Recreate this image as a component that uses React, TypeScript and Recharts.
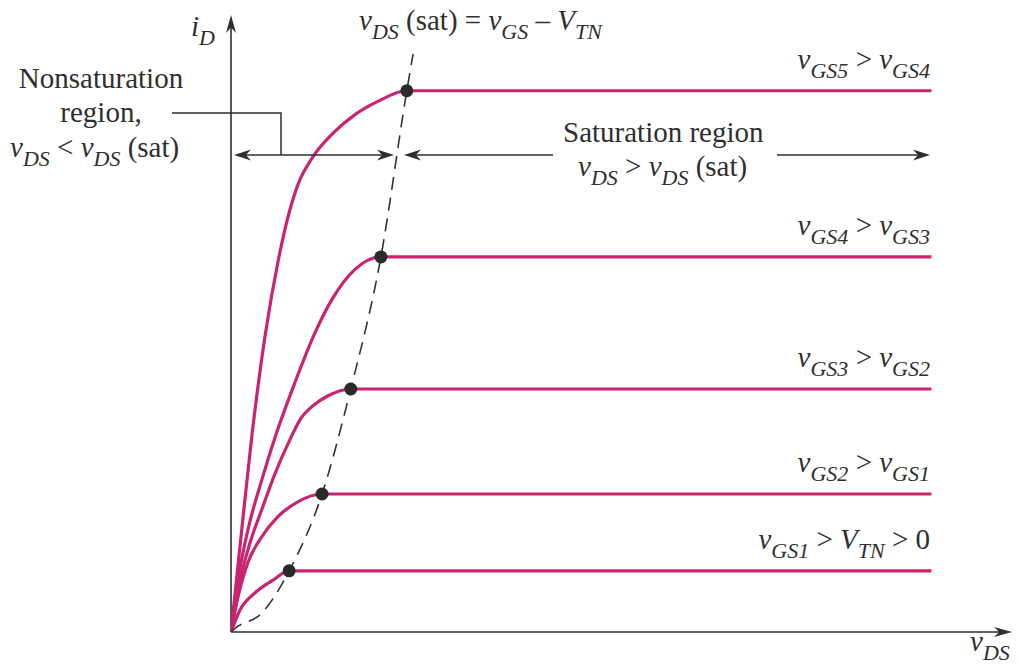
import React from "react";
import { ComposedChart, Line, Scatter, XAxis, YAxis, ReferenceLine } from "recharts";

// ---- data (plot units: vDS along x, iD along y) ----
const vdsEnd = 10;
const kneeVds = [0.83, 1.3, 1.71, 2.14, 2.51];
const kneeId = [1.13, 2.55, 4.49, 6.93, 10.0];

// rising (nonsaturation) part of each curve, origin and knee excluded
const rise1: [number, number][] = [[0.13, 0.41], [0.34, 0.72], [0.6, 0.96]];
const rise2: [number, number][] = [[0.09, 0.59], [0.24, 1.28], [0.44, 1.76], [0.67, 2.13], [0.96, 2.41]];
const rise3: [number, number][] = [[0.12, 0.9], [0.26, 1.6], [0.45, 2.3], [0.62, 2.9], [0.84, 3.55], [1.0, 3.95], [1.17, 4.18], [1.38, 4.36]];
const rise4: [number, number][] = [[0.1, 0.96], [0.24, 1.88], [0.44, 2.81], [0.64, 3.64], [0.91, 4.6], [1.2, 5.53], [1.44, 6.14], [1.77, 6.7]];
const rise5: [number, number][] = [[0.15, 1.85], [0.3, 3.65], [0.49, 5.5], [0.68, 6.9], [0.82, 7.7], [0.96, 8.28], [1.17, 8.78], [1.46, 9.22], [1.77, 9.56], [2.09, 9.8]];

// vDS(sat) locus (dashed), below the first knee and above the last one
const locusLow: [number, number][] = [[0, 0], [0.06, 0.07], [0.44, 0.35]];
const locusHigh: [number, number][] = [[2.6, 10.68]];

const gateLabels = [
  ["GS1", null],
  ["GS2", "GS1"],
  ["GS3", "GS2"],
  ["GS4", "GS3"],
  ["GS5", "GS4"],
];

// ---- layout ----
const W = 1018;
const H = 667;
const X0 = 231;
const Y0 = 632;
const TOP = 15;
const RIGHT = 6;
const xMax = 11.15;
const yMax = 11.4;
const unitY = (Y0 - TOP) / yMax;

const magenta = "#c92470";
const ink = "#2f2f2f";
const serif = "'Liberation Serif', Tinos, 'Times New Roman', Times, 'Noto Serif', 'DejaVu Serif', FreeSerif, serif";

const rises = [rise1, rise2, rise3, rise4, rise5];
const toPts = (a: [number, number][]) => a.map(([x, y]) => ({ x, y }));

const curves = rises.map((r, i) =>
  toPts([[0, 0], ...r, [kneeVds[i], kneeId[i]], [vdsEnd, kneeId[i]]])
);
const locus = toPts([
  ...locusLow,
  ...kneeVds.map((v, i) => [v, kneeId[i]] as [number, number]),
  ...locusHigh,
]);
const knees = kneeVds.map((x, i) => ({ x, y: kneeId[i] }));

// barbed arrow head with its tip at (x, y), pointing along ang
const barb = (x: number, y: number, ang: number, len = 17, hw = 5.5) => {
  const c = Math.cos(ang);
  const s = Math.sin(ang);
  const p = (lx: number, ly: number) => `${x + lx * c - ly * s},${y + lx * s + ly * c}`;
  return `M${p(0, 0)} L${p(-len, -hw)} L${p(-len * 0.7, 0)} L${p(-len, hw)} Z`;
};

const AxisArrow = (props: any) => {
  const { x1, y1, x2, y2 } = props;
  const ang = Math.atan2(y2 - y1, x2 - x1);
  return (
    <g>
      <line x1={x1} y1={y1} x2={x2 - Math.cos(ang) * 8} y2={y2 - Math.sin(ang) * 8} stroke={ink} strokeWidth={1.6} />
      <path d={barb(x2, y2, ang, 18, 5)} fill={ink} />
    </g>
  );
};

type Part = [string, "i" | "s" | "r"];

const Rich = ({ x, y, parts, anchor = "start", size = 29 }: { x: number; y: number; parts: Part[]; anchor?: string; size?: number }) => {
  let inSub = false;
  return (
    <text x={x} y={y} textAnchor={anchor as any} fontSize={size} fill={ink} fontFamily={serif} style={{ whiteSpace: "pre" }}>
      {parts.map(([t, k], i) => {
        const sub = k === "s";
        const dy = sub && !inSub ? 9 : !sub && inSub ? -9 : 0;
        inSub = sub;
        return (
          <tspan key={i} dy={dy || undefined} fontSize={sub ? 22 : size} fontStyle={k === "r" ? "normal" : "italic"}>
            {t}
          </tspan>
        );
      })}
    </text>
  );
};

const Arrow = ({ x1, x2, y, head1 = false, head2 = false }: { x1: number; x2: number; y: number; head1?: boolean; head2?: boolean }) => (
  <g>
    <line x1={head1 ? x1 + 8 : x1} y1={y} x2={head2 ? x2 - 8 : x2} y2={y} stroke={ink} strokeWidth={1.5} />
    {head1 && <path d={barb(x1, y, Math.PI, 17, 5.5)} fill={ink} />}
    {head2 && <path d={barb(x2, y, 0, 17, 5.5)} fill={ink} />}
  </g>
);

const Annotations = () => (
  <svg width={W} height={H} style={{ position: "absolute", left: 0, top: 0, pointerEvents: "none" }}>
    <Rich x={191} y={36} parts={[["i", "i"], ["D", "s"]]} />
    <Rich x={359} y={30} parts={[["v", "i"], ["DS", "s"], [" (sat) = ", "r"], ["v", "i"], ["GS", "s"], [" – ", "r"], ["V", "i"], ["TN", "s"]]} />

    <text x={101} y={88} textAnchor="middle" fontSize={29} fill={ink} fontFamily={serif}>Nonsaturation</text>
    <text x={101} y={122} textAnchor="middle" fontSize={29} fill={ink} fontFamily={serif}>region,</text>
    <Rich x={10} y={157} parts={[["v", "i"], ["DS", "s"], [" < ", "r"], ["v", "i"], ["DS", "s"], [" (sat)", "r"]]} />

    <polyline points="172,113 281,113 281,155" fill="none" stroke={ink} strokeWidth={1.5} />
    <Arrow x1={234} x2={394} y={155} head1 head2 />
    <Arrow x1={404} x2={553} y={155} head1 />
    <Arrow x1={777} x2={930} y={155} head2 />

    <text x={563} y={142} fontSize={29} fill={ink} fontFamily={serif}>Saturation region</text>
    <Rich x={578} y={176} parts={[["v", "i"], ["DS", "s"], [" > ", "r"], ["v", "i"], ["DS", "s"], [" (sat)", "r"]]} />

    {gateLabels.map(([hi, lo], i) => {
      const y = Y0 - kneeId[i] * unitY - 22;
      const parts: Part[] = lo
        ? [["v", "i"], [hi as string, "s"], [" > ", "r"], ["v", "i"], [lo, "s"]]
        : [["v", "i"], [hi as string, "s"], [" > ", "r"], ["V", "i"], ["TN", "s"], [" > 0", "r"]];
      return <Rich key={i} x={930} y={y} anchor="end" parts={parts} />;
    })}

    <Rich x={970} y={651} parts={[["v", "i"], ["DS", "s"]]} />
  </svg>
);

export default function App() {
  return (
    <div style={{ position: "absolute", left: 0, top: 0, width: W, height: H, background: "#fff" }}>
      <ComposedChart width={W} height={H} margin={{ top: TOP, right: RIGHT, bottom: H - Y0, left: X0 }}>
        <XAxis type="number" dataKey="x" domain={[0, xMax]} hide allowDataOverflow />
        <YAxis type="number" dataKey="y" domain={[0, yMax]} hide allowDataOverflow />
        <ReferenceLine segment={[{ x: 0, y: 0 }, { x: xMax, y: 0 }]} ifOverflow="visible" shape={AxisArrow} />
        <ReferenceLine segment={[{ x: 0, y: 0 }, { x: 0, y: yMax }]} ifOverflow="visible" shape={AxisArrow} />
        {curves.map((pts, i) => (
          <Line
            key={i}
            data={pts}
            dataKey="y"
            type="monotone"
            stroke={magenta}
            strokeWidth={3.2}
            dot={false}
            activeDot={false}
            isAnimationActive={false}
          />
        ))}
        <Line
          data={locus}
          dataKey="y"
          type="monotone"
          stroke="#333"
          strokeWidth={1.6}
          strokeDasharray="13 8"
          dot={false}
          activeDot={false}
          isAnimationActive={false}
        />
        <Scatter
          data={knees}
          dataKey="y"
          isAnimationActive={false}
          shape={(p: any) => <circle cx={p.cx} cy={p.cy} r={6.5} fill="#2a2a2a" />}
        />
      </ComposedChart>
      <Annotations />
    </div>
  );
}
